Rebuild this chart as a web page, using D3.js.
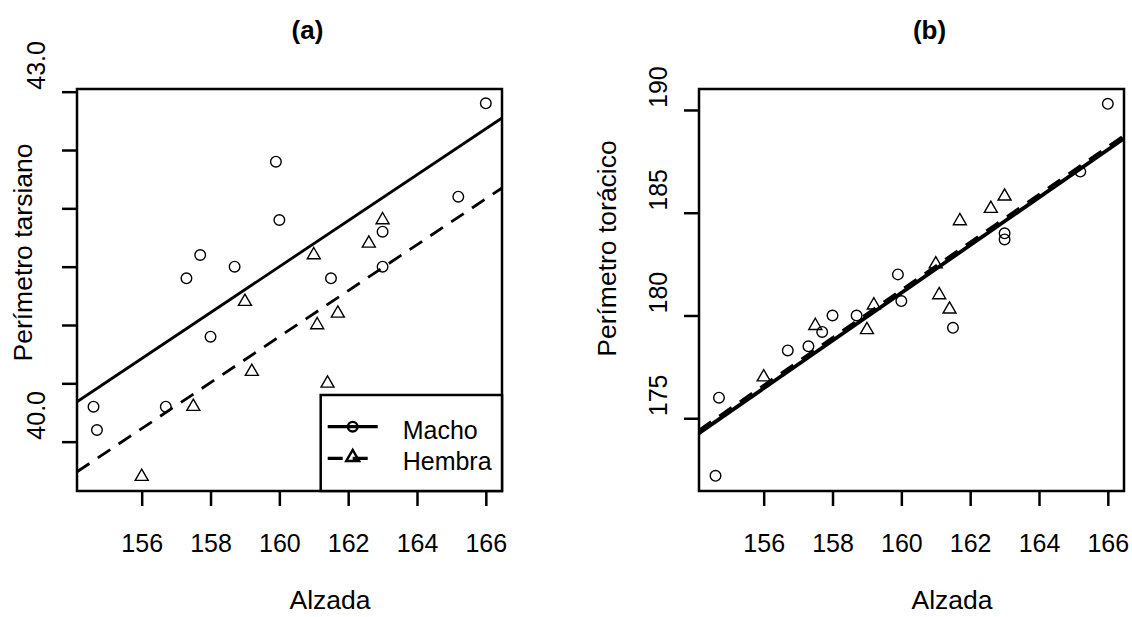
<!DOCTYPE html>
<html>
<head>
<meta charset="utf-8">
<script src="https://cdn.jsdelivr.net/npm/d3@7"></script>
<style>
body { margin: 0; background: #fff; }
svg { display: block; font-family: "Liberation Sans", Arial, sans-serif; }
</style>
</head>
<body>
<svg id="chart" width="1132" height="617"></svg>
<script>
// datos: alzada vs perimetros, por sexo
const alzadaMacho = [166.0, 165.2, 163.0, 163.0, 159.9, 160.0, 158.0, 158.7, 157.7, 157.3, 156.7, 161.5, 154.6, 154.7];
const tarsoMacho = [42.9, 42.1, 41.8, 41.5, 42.4, 41.9, 40.9, 41.5, 41.6, 41.4, 40.3, 41.4, 40.3, 40.1];
const toraxMacho = [190.3, 187.0, 184.0, 183.7, 182.0, 180.7, 180.0, 180.0, 179.2, 178.5, 178.3, 179.4, 172.2, 176.0];

const alzadaHembra = [163.0, 162.6, 161.7, 161.0, 161.1, 161.4, 159.2, 157.5, 159.0, 156.0];
const tarsoHembra = [41.9, 41.7, 41.1, 41.6, 41.0, 40.5, 40.6, 40.3, 41.2, 39.7];
const toraxHembra = [185.8, 185.2, 184.6, 182.5, 181.0, 180.3, 180.5, 179.5, 179.3, 177.0];

const sexes = ["Macho", "Hembra"];
// rectas ajustadas (pendiente comun)
const slopeTarso = 0.197;
const interceptTarso = [9.98, 9.38];
const slopeTorax = 1.161;
const interceptTorax = [-4.66, -4.54];

const alzadaTicks = [156, 158, 160, 162, 164, 166];
const tarsoTicks = [40, 40.5, 41, 41.5, 42, 42.5, 43];
const tarsoTickLabels = ["40.0", "", "", "", "", "", "43.0"];
const toraxTicks = [175, 180, 185, 190];
const toraxTickLabels = ["175", "180", "185", "190"];

const svg = d3.select("#chart");
const boxW = 425, plotTop = 89, plotBottom = 491;
const xDomain = [154.12, 166.47];

function triangle(x, y) {
    const r = 7.5, h = 6.5;
    return `M${x},${y - r}L${x + h},${y + r / 2}L${x - h},${y + r / 2}Z`;
}

function drawPanel(p) {
    const g = svg.append("g");
    const x = d3.scaleLinear().domain(xDomain).range([p.left, p.left + boxW]);
    const y = d3.scaleLinear().domain(p.yDomain).range([plotBottom, plotTop]);
    const clipId = "clip-" + p.id;

    g.append("clipPath").attr("id", clipId)
        .append("rect")
        .attr("x", p.left).attr("y", plotTop)
        .attr("width", boxW).attr("height", plotBottom - plotTop);

    // x axis
    const xAxis = g.append("g")
        .attr("transform", `translate(0,${plotBottom})`)
        .call(d3.axisBottom(x).tickValues(alzadaTicks).tickSize(15).tickSizeOuter(0));
    xAxis.select(".domain").remove();
    xAxis.selectAll(".tick line").attr("stroke", "#000").attr("stroke-width", 2.5);
    xAxis.selectAll(".tick text")
        .attr("y", 61).attr("dy", null)
        .attr("fill", "#000")
        .style("font-size", "25px")
        .style("font-family", "Liberation Sans, Arial, sans-serif");

    // y axis
    const yAxis = g.append("g")
        .attr("transform", `translate(${p.left},0)`)
        .call(d3.axisLeft(y).tickValues(p.yTicks).tickSize(15).tickSizeOuter(0).tickFormat(""));
    yAxis.select(".domain").remove();
    yAxis.selectAll(".tick line").attr("stroke", "#000").attr("stroke-width", 2.5);

    g.selectAll(".ylab")
        .data(p.yTicks)
        .enter().append("text")
        .attr("class", "ylab")
        .attr("transform", (d) => `translate(${p.left - 32.5},${y(d) - 2}) rotate(-90)`)
        .attr("text-anchor", "start")
        .style("font-size", "25px")
        .text((d, i) => p.yLabels[i]);

    // titulos
    g.append("text")
        .attr("x", p.left + boxW / 2 + 18).attr("y", 39)
        .attr("text-anchor", "middle")
        .style("font-size", "26px").style("font-weight", "bold")
        .text(p.title);

    g.append("text")
        .attr("x", p.left + boxW / 2 + 40.5).attr("y", 609)
        .attr("text-anchor", "middle")
        .style("font-size", "26.5px")
        .text("Alzada");

    g.append("text")
        .attr("transform", `translate(${p.yTitleX},${p.yTitleY}) rotate(-90)`)
        .attr("text-anchor", "middle")
        .style("font-size", "26.5px")
        .text(p.yTitle);

    // puntos
    const plot = g.append("g").attr("clip-path", `url(#${clipId})`);
    plot.selectAll(".macho")
        .data(alzadaMacho)
        .enter().append("circle")
        .attr("class", "macho")
        .attr("cx", (d) => x(d))
        .attr("cy", (d, i) => y(p.yMacho[i]))
        .attr("r", 5.3)
        .attr("fill", "none").attr("stroke", "#000").attr("stroke-width", 1.4);

    plot.selectAll(".hembra")
        .data(alzadaHembra)
        .enter().append("path")
        .attr("class", "hembra")
        .attr("d", (d, i) => triangle(x(d), y(p.yHembra[i])))
        .attr("fill", "none").attr("stroke", "#000").attr("stroke-width", 1.4);

    // rectas
    const line = d3.line().x((d) => x(d[0])).y((d) => y(d[1]));
    sexes.forEach((s, i) => {
        plot.append("path")
            .datum(xDomain.map((v) => [v, p.intercepts[i] + p.slope * v]))
            .attr("d", line)
            .attr("fill", "none")
            .attr("stroke", "#000")
            .attr("stroke-width", p.lineWidth)
            .attr("stroke-dasharray", i === 1 ? "15,10" : null);
    });

    // marco
    g.append("rect")
        .attr("x", p.left).attr("y", plotTop)
        .attr("width", boxW).attr("height", plotBottom - plotTop)
        .attr("fill", "none").attr("stroke", "#000").attr("stroke-width", 2.5);

    if (p.legend) {
        const lx = 320.7, ly = 395;
        const leg = g.append("g");
        leg.append("rect")
            .attr("x", lx).attr("y", ly)
            .attr("width", p.left + boxW - lx).attr("height", plotBottom - ly)
            .attr("fill", "#fff").attr("stroke", "#000").attr("stroke-width", 2.5);
        sexes.forEach((s, i) => {
            const yy = ly + 31.7 + i * 31.6;
            leg.append("line")
                .attr("x1", lx + 7).attr("x2", lx + 57)
                .attr("y1", yy).attr("y2", yy)
                .attr("stroke", "#000").attr("stroke-width", 3.2)
                .attr("stroke-dasharray", i === 1 ? "15,10" : null);
            if (i === 0) {
                leg.append("circle")
                    .attr("cx", lx + 32).attr("cy", yy).attr("r", 4.8)
                    .attr("fill", "none").attr("stroke", "#000").attr("stroke-width", 2.4);
            } else {
                leg.append("path")
                    .attr("d", triangle(lx + 32, yy - 1))
                    .attr("fill", "none").attr("stroke", "#000").attr("stroke-width", 2.4);
            }
            leg.append("text")
                .attr("x", lx + 82).attr("y", yy + 11.8)
                .style("font-size", "25px")
                .text(s);
        });
    }
}

drawPanel({
    id: "a", left: 77, title: "(a)",
    yDomain: [39.577, 43.023], yTicks: tarsoTicks, yLabels: tarsoTickLabels,
    yTitle: "Perímetro tarsiano", yTitleX: 31.7, yTitleY: 252.5,
    yMacho: tarsoMacho, yHembra: tarsoHembra,
    slope: slopeTarso, intercepts: interceptTarso, lineWidth: 2.8,
    legend: true
});

drawPanel({
    id: "b", left: 699, title: "(b)",
    yDomain: [171.46, 191.02], yTicks: toraxTicks, yLabels: toraxTickLabels,
    yTitle: "Perímetro torácico", yTitleX: 616, yTitleY: 248.5,
    yMacho: toraxMacho, yHembra: toraxHembra,
    slope: slopeTorax, intercepts: interceptTorax, lineWidth: 3.8,
    legend: false
});
</script>
</body>
</html>
